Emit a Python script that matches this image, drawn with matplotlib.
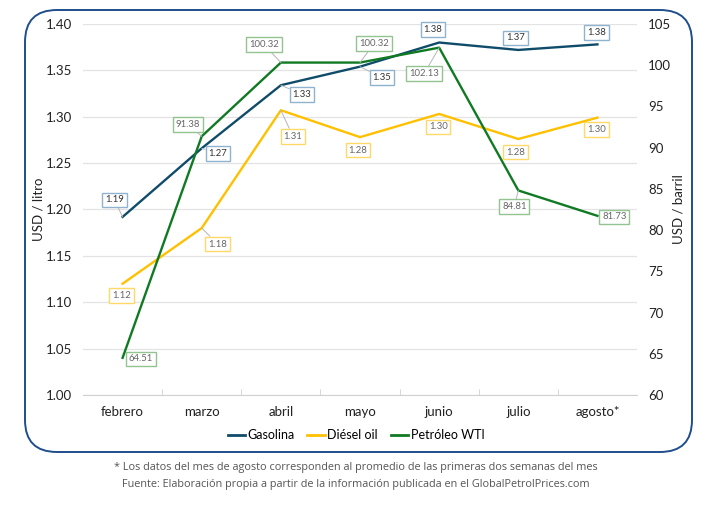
import numpy as np
import matplotlib.pyplot as plt
from matplotlib.patches import FancyBboxPatch
from matplotlib.lines import Line2D

plt.rcParams['font.family'] = ['Lato', 'DejaVu Sans']

meses = ['febrero', 'marzo', 'abril', 'mayo', 'junio', 'julio', 'agosto*']
gasolina = [1.192, 1.266, 1.334, 1.354, 1.380, 1.372, 1.378]
diesel = [1.120, 1.180, 1.307, 1.278, 1.303, 1.276, 1.299]
wti = [64.51, 91.38, 100.32, 100.32, 102.13, 84.81, 81.73]

c_gas = '#0f4c6a'
c_die = '#ffc000'
c_wti = '#107a23'

# desplazamientos de las etiquetas (pixeles)
off_gas = [(-8, 17), (16, -5), (21, -9), (22, -11), (-6, 13), (-3, 12), (-1, 12)]
off_die = [(-1, -12), (16, -16), (12, -26), (-2, -13), (-1, -13), (-3, -13), (-1, -12)]
off_wti = [(18, -1), (-14, 12), (-17, 18), (14, 19), (-15, -26), (-4, -16), (17, -1)]

fig = plt.figure(figsize=(7.12, 5.08), dpi=100)
fig.patch.set_facecolor('white')

marco = FancyBboxPatch((0.25, 0.56), 6.67, 4.42,
                       boxstyle='round,pad=0,rounding_size=0.32',
                       transform=fig.dpi_scale_trans, facecolor='white',
                       edgecolor='#1f4e8c', linewidth=1.4, zorder=-5)
fig.patches.append(marco)

ax = fig.add_axes([0.1166, 0.2224, 0.7781, 0.7304])
ax2 = ax.twinx()
x = np.arange(len(meses))

ax.set_ylim(1.00, 1.40)
ax.set_yticks(np.arange(1.00, 1.401, 0.05))
ax.set_yticklabels([f'{v:.2f}' for v in np.arange(1.00, 1.401, 0.05)])
ax2.set_ylim(60, 105)
ax2.set_yticks(range(60, 106, 5))
ax.set_xlim(-0.5, len(meses) - 0.5)
ax.set_xticks(x)
ax.set_xticklabels(meses)
ax.set_xticks(np.arange(0.5, len(meses) - 1, 1), minor=True)
ax.tick_params(axis='x', which='major', length=0, pad=8, labelsize=9.5, colors='#222222')
ax.tick_params(axis='x', which='minor', length=4, color='#d0d0d0', direction='in')
ax.tick_params(axis='y', length=0, labelsize=9.5, colors='#222222', pad=8)
ax2.tick_params(axis='y', length=0, labelsize=9.5, colors='#222222', pad=8)
ax.grid(axis='y', color='#e3e3e3', linewidth=0.9)
ax.set_axisbelow(True)
for a in (ax, ax2):
    for s in a.spines.values():
        s.set_visible(False)
ax.spines['bottom'].set_visible(True)
ax.spines['bottom'].set_color('#d0d0d0')
ax.patch.set_visible(False)

ax.set_ylabel('USD / litro', fontsize=9.5, color='#222222', labelpad=1)
ax2.set_ylabel('USD / barril', fontsize=9.5, color='#222222', labelpad=1)

ax.plot(x, gasolina, color=c_gas, lw=1.7, zorder=3)
ax.plot(x, diesel, color=c_die, lw=1.7, zorder=3)
ax2.plot(x, wti, color=c_wti, lw=1.7, zorder=3)


def etiquetas(axis, vals, offs, edge, tcolor):
    for xi, v, (dx, dy) in zip(x, vals, offs):
        lejos = abs(dx) + abs(dy) > 19
        axis.annotate(f'{v:.2f}', (xi, v), xytext=(dx, dy), textcoords='offset pixels',
                      ha='center', va='center', fontsize=6.8, color=tcolor,
                      bbox=dict(boxstyle='square,pad=0.3', fc='white', ec=edge, lw=1),
                      arrowprops=dict(arrowstyle='-', color='#b5b5b5', lw=0.7,
                                      shrinkA=0, shrinkB=0) if lejos else None,
                      zorder=5)


etiquetas(ax, gasolina, off_gas, '#8fb3cf', '#333333')
etiquetas(ax, diesel, off_die, '#ffd966', '#666666')
etiquetas(ax2, wti, off_wti, '#93c48f', '#666666')

handles = [Line2D([], [], color=c, lw=2) for c in (c_gas, c_die, c_wti)]
fig.legend(handles, ['Gasolina', 'Diésel oil', 'Petróleo WTI'], loc='center',
           bbox_to_anchor=(0.5, 0.143), ncol=3, frameon=False, fontsize=9,
           handlelength=1.4, handletextpad=0.2, columnspacing=1.0)

nota = '* Los datos del mes de agosto corresponden al promedio de las primeras dos semanas del mes'
fuente = 'Fuente: Elaboración propia a partir de la información publicada en el GlobalPetrolPrices.com'
fig.text(0.5, 0.079, nota, ha='center', va='center', fontsize=7.8, color='#555555',
         family=['Open Sans', 'DejaVu Sans'])
fig.text(0.5, 0.047, fuente, ha='center', va='center', fontsize=7.8, color='#555555',
         family=['Open Sans', 'DejaVu Sans'])

fig.savefig('out.png', dpi=100)
